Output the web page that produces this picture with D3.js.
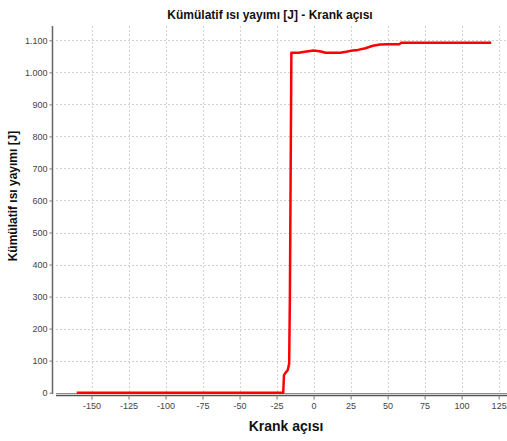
<!DOCTYPE html>
<html>
<head>
<meta charset="utf-8">
<script src="https://cdn.jsdelivr.net/npm/d3@7"></script>
<style>
  body { margin: 0; background: #fff; }
  text { font-family: "Liberation Sans", Arial, sans-serif; }
</style>
</head>
<body>
<div id="chart"></div>
<script>
// crank angle vs cumulative heat release
var krankAcisi = [-160, -20.5, -20, -19, -17.5, -16.5, -16, -15, -10, -6, 0, 5, 8, 18, 22, 25, 30, 35, 40, 45, 50, 58, 59, 80, 100, 120];
var isiYayimi = [0, 0, 55, 62, 70, 90, 300, 1061, 1061, 1064, 1068, 1065, 1061, 1061, 1064, 1067, 1070, 1075, 1083, 1087, 1088, 1088, 1092, 1092, 1092, 1092];
var xTicks = [-150, -125, -100, -75, -50, -25, 0, 25, 50, 75, 100, 125];
var yTicks = [0, 100, 200, 300, 400, 500, 600, 700, 800, 900, 1000, 1100];

var title = 'Kümülatif ısı yayımı [J] - Krank açısı';
var xLabel = 'Krank açısı';
var yLabel = 'Kümülatif ısı yayımı [J]';

var w = 507, h = 441;
var pLeft = 56, pRight = 509, pTop = 26, pBottom = 393.5;

var svg = d3.select('#chart').append('svg')
  .attr('width', w).attr('height', h);

var x = d3.scaleLinear().domain([-174, 132]).range([pLeft, pRight]);
var y = d3.scaleLinear().domain([-2.5, 1144.6]).range([pBottom, pTop]);

var loc = d3.formatLocale({ decimal: ',', thousands: '.', grouping: [3], currency: ['', ''], minus: '-' });
var yFmt = loc.format(',d');
var xFmt = loc.format('d');

// grid lines
svg.append('g').selectAll('line').data(xTicks).enter().append('line')
  .attr('x1', function(d) { return Math.round(x(d)) + 0.5; })
  .attr('x2', function(d) { return Math.round(x(d)) + 0.5; })
  .attr('y1', pTop).attr('y2', pBottom)
  .attr('stroke', '#d2d2d2').attr('stroke-dasharray', '2,2');

svg.append('g').selectAll('line').data(yTicks.slice(1)).enter().append('line')
  .attr('x1', pLeft).attr('x2', w)
  .attr('y1', function(d) { return Math.round(y(d)) + 0.5; })
  .attr('y2', function(d) { return Math.round(y(d)) + 0.5; })
  .attr('stroke', '#d2d2d2').attr('stroke-dasharray', '2,2');

// zero baseline
svg.append('line')
  .attr('x1', pLeft).attr('x2', w)
  .attr('y1', Math.round(y(0)) + 0.5).attr('y2', Math.round(y(0)) + 0.5)
  .attr('stroke', '#8c8c8c');

// axes
var yAxis = svg.append('g')
  .attr('transform', 'translate(52.5,0)')
  .call(d3.axisLeft(y).tickValues(yTicks).tickFormat(yFmt).tickSize(3).tickPadding(2));
yAxis.select('.domain').attr('d', 'M0,' + pTop + 'V' + (pBottom + 0.5)).attr('stroke', '#666').attr('stroke-width', 1.5);

var xAxis = svg.append('g')
  .attr('transform', 'translate(0,395.5)')
  .call(d3.axisBottom(x).tickValues(xTicks).tickFormat(xFmt).tickSize(4).tickPadding(3));
xAxis.select('.domain').attr('d', 'M' + pLeft + ',0H' + w).attr('stroke', '#555').attr('stroke-width', 1.5);

svg.selectAll('.tick line').attr('stroke', '#777');
svg.selectAll('.tick text')
  .attr('fill', '#444')
  .style('font-size', '9px')
  .style('font-family', '"Liberation Sans", Arial, sans-serif');

// data line
var line = d3.line()
  .x(function(d, i) { return x(krankAcisi[i]); })
  .y(function(d) { return y(d); });

svg.append('path')
  .datum(isiYayimi)
  .attr('d', line)
  .attr('fill', 'none')
  .attr('stroke', '#ff0000')
  .attr('stroke-width', 2.5)
  .attr('stroke-linejoin', 'round');

// titles
svg.append('text')
  .attr('x', 270).attr('y', 19)
  .attr('text-anchor', 'middle')
  .attr('font-weight', 'bold').attr('font-size', '12px')
  .attr('fill', '#111')
  .style('font-family', '"Liberation Sans Narrow", "Liberation Sans", sans-serif')
  .text(title);

svg.append('text')
  .attr('x', 286).attr('y', 431)
  .attr('text-anchor', 'middle')
  .attr('font-weight', 'bold').attr('font-size', '14px')
  .attr('fill', '#111')
  .text(xLabel);

svg.append('text')
  .attr('transform', 'translate(17,196) rotate(-90)')
  .attr('text-anchor', 'middle')
  .attr('font-weight', 'bold').attr('font-size', '12px')
  .attr('fill', '#111')
  .text(yLabel);
</script>
</body>
</html>
